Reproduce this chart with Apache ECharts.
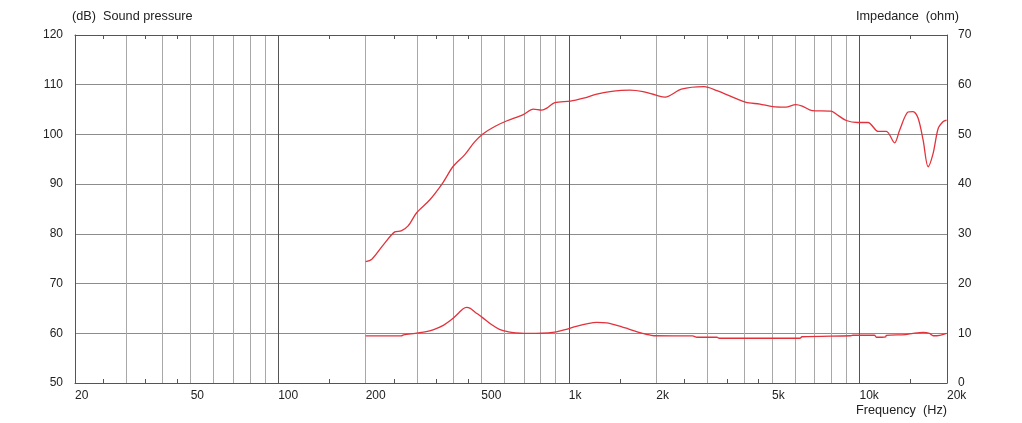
<!DOCTYPE html>
<html>
<head>
<meta charset="utf-8">
<script src="https://cdn.jsdelivr.net/npm/echarts@6/dist/echarts.min.js"></script>
<style>html,body{margin:0;padding:0;background:#fff}#c{width:1022px;height:423px}</style>
</head>
<body>
<div id="c"></div>
<script>
// Sound pressure (dB) curve
const splFreq = [200, 210, 230, 252, 265, 280, 300, 332, 368, 399, 438, 474, 506, 556, 610, 697, 755, 807, 840, 895, 1012, 1123, 1248, 1385, 1622, 1800, 1994, 2144, 2439, 2918, 3233, 4049, 4544, 5034, 5579, 6035, 6353, 6870, 7983, 8310, 9005, 9870, 10700, 11600, 12370, 13200, 13750, 14690, 15280, 15900, 16550, 17220, 17920, 18650, 19410, 19930];
const splDb   = [74.4, 74.9, 77.8, 80.4, 80.6, 81.6, 84.3, 86.8, 90.2, 93.5, 95.9, 98.5, 100.1, 101.6, 102.7, 104.0, 105.1, 104.9, 105.3, 106.4, 106.7, 107.3, 108.1, 108.6, 108.9, 108.6, 107.9, 107.5, 109.1, 109.6, 108.8, 106.5, 106.1, 105.6, 105.5, 106.0, 105.7, 104.8, 104.7, 104.1, 102.8, 102.4, 102.4, 100.6, 100.6, 98.3, 100.9, 104.5, 104.6, 103.3, 98.9, 93.5, 96.2, 101.2, 102.6, 102.9];

// Impedance (ohm) curve
const impFreq = [200, 265, 270, 296, 320, 341, 370, 394, 418, 432, 445, 458, 475, 506, 540, 577, 620, 657, 700, 770, 850, 906, 980, 1060, 1150, 1248, 1350, 1464, 1600, 1719, 1850, 1958, 2665, 2760, 3233, 3290, 6238, 6340, 9300, 9460, 11260, 11430, 12300, 12370, 14380, 15280, 16550, 17400, 17920, 18900, 19930];
const impOhm  = [9.46, 9.46, 9.7, 10.0, 10.3, 10.7, 11.6, 12.7, 14.1, 14.9, 15.2, 15.0, 14.3, 13.1, 11.8, 10.8, 10.3, 10.1, 10.0, 10.0, 10.1, 10.3, 10.8, 11.4, 11.9, 12.2, 12.1, 11.6, 10.9, 10.3, 9.8, 9.5, 9.46, 9.2, 9.2, 9.0, 9.0, 9.3, 9.5, 9.6, 9.6, 9.2, 9.3, 9.6, 9.75, 10.0, 10.2, 10.0, 9.5, 9.6, 10.0];

// Axis ticks
const gridFreqs  = [20, 30, 40, 50, 60, 70, 80, 90, 100, 200, 300, 400, 500, 600, 700, 800, 900, 1000, 2000, 3000, 4000, 5000, 6000, 7000, 8000, 9000, 10000, 20000];
const labelFreqs = [20, 50, 100, 200, 500, 1000, 2000, 5000, 10000, 20000];
const minorFreqs = [25, 35, 45, 150, 250, 350, 450, 1500, 2500, 3500, 4500, 15000];

const zip = (a, b) => a.map((v, i) => [v, b[i]]);
const FONT = '"Liberation Sans", Arial, sans-serif';
const TXT = '#222';
const AX = '#555';
const fmtHz = v => v >= 1000 ? (v / 1000) + 'k' : String(v);
const lite = '#a8a8a8';

const chart = echarts.init(document.getElementById('c'), null, {renderer: 'canvas'});
chart.setOption({
  animation: false,
  backgroundColor: '#fff',
  grid: {left: 75, right: 75, top: 35, bottom: 40},
  xAxis: [
    {
      type: 'log', logBase: 10, min: 20, max: 20000, position: 'bottom',
      axisLine: {show: true, lineStyle: {color: AX, width: 1}},
      axisTick: {show: false, customValues: gridFreqs},
      axisLabel: {customValues: labelFreqs, formatter: fmtHz, align: 'left', margin: 7,
                  color: TXT, fontSize: 12, fontFamily: FONT, hideOverlap: false,
                  showMinLabel: true, showMaxLabel: true},
      splitLine: {show: true, lineStyle: {width: 1,
        color: [lite, lite, lite, lite, lite, lite, lite, lite, '#555']}}
    },
    {
      type: 'log', logBase: 10, min: 20, max: 20000, position: 'bottom',
      axisLine: {show: false},
      axisTick: {show: true, inside: true, length: 4, customValues: minorFreqs, lineStyle: {color: AX}},
      axisLabel: {show: false},
      splitLine: {show: false}
    },
    {
      type: 'log', logBase: 10, min: 20, max: 20000, position: 'top',
      axisLine: {show: true, lineStyle: {color: AX, width: 1}},
      axisTick: {show: true, inside: true, length: 4, customValues: minorFreqs, lineStyle: {color: AX}},
      axisLabel: {show: false},
      splitLine: {show: false}
    }
  ],
  yAxis: [
    {
      type: 'value', min: 50, max: 120, interval: 10, position: 'left',
      axisLine: {show: true, lineStyle: {color: AX}},
      axisTick: {show: false},
      axisLabel: {color: TXT, fontSize: 12, fontFamily: FONT, margin: 12},
      splitLine: {show: true, lineStyle: {color: '#8c8c8c', width: 1}}
    },
    {
      type: 'value', min: 0, max: 70, interval: 10, position: 'right',
      axisLine: {show: true, lineStyle: {color: AX}},
      axisTick: {show: false},
      axisLabel: {color: TXT, fontSize: 12, fontFamily: FONT, margin: 11},
      splitLine: {show: false}
    }
  ],
  graphic: [
    {type: 'text', left: 72, top: 10, style: {text: '(dB)  Sound pressure', fill: TXT, font: '12.7px ' + FONT}},
    {type: 'text', left: 856, top: 10, style: {text: 'Impedance  (ohm)', fill: TXT, font: '12.7px ' + FONT}},
    {type: 'text', left: 856, top: 404, style: {text: 'Frequency  (Hz)', fill: TXT, font: '12.7px ' + FONT}}
  ],
  series: [
    {
      name: 'Sound pressure', type: 'line', xAxisIndex: 0, yAxisIndex: 0,
      data: zip(splFreq, splDb), showSymbol: false, smooth: 0.3,
      lineStyle: {color: '#e2323c', width: 1.3}, itemStyle: {color: '#e2323c'}
    },
    {
      name: 'Impedance', type: 'line', xAxisIndex: 0, yAxisIndex: 1,
      data: zip(impFreq, impOhm), showSymbol: false, smooth: 0.3,
      lineStyle: {color: '#e2323c', width: 1.3}, itemStyle: {color: '#e2323c'}
    }
  ]
});
</script>
</body>
</html>
